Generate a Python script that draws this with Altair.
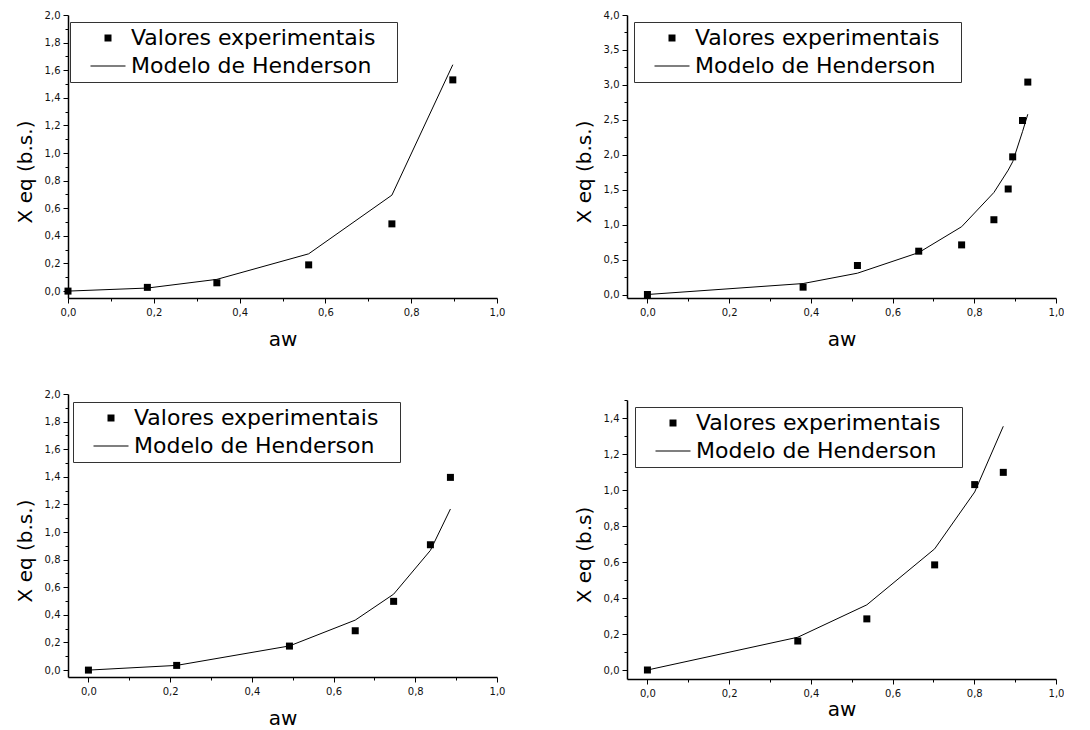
import altair as alt
import pandas as pd

FONT = "DejaVu Sans"
S_EXP = "Valores experimentais"
S_MOD = "Modelo de Henderson"

# ---- Panel 1 (top-left)
aw_1 = [0.0, 0.185, 0.347, 0.561, 0.755, 0.897]
xexp_1 = [0.0, 0.027, 0.06, 0.19, 0.487, 1.53]
xmod_1 = [0.0, 0.022, 0.085, 0.27, 0.695, 1.64]

# ---- Panel 2 (top-right)
aw_2 = [0.0, 0.381, 0.514, 0.664, 0.769, 0.848, 0.883, 0.894, 0.918, 0.931]
xexp_2 = [0.0, 0.105, 0.415, 0.62, 0.71, 1.07, 1.51, 1.97, 2.49, 3.04]
xmod_2 = [0.0, 0.157, 0.305, 0.60, 0.97, 1.46, 1.78, 1.90, 2.33, 2.58]

# ---- Panel 3 (bottom-left)
aw_3 = [0.0, 0.216, 0.492, 0.653, 0.747, 0.837, 0.886]
xexp_3 = [0.0, 0.034, 0.174, 0.285, 0.498, 0.908, 1.396]
xmod_3 = [0.0, 0.034, 0.175, 0.362, 0.55, 0.867, 1.167]

# ---- Panel 4 (bottom-right)
aw_4 = [0.0, 0.368, 0.537, 0.703, 0.801, 0.871]
xexp_4 = [0.0, 0.161, 0.284, 0.584, 1.03, 1.098]
xmod_4 = [0.0, 0.182, 0.362, 0.673, 0.989, 1.354]

x_ticks = [round(i * 0.1, 2) for i in range(0, 11)]
y_ticks_2 = [round(i * 0.1, 2) for i in range(0, 21)]
y_ticks_4 = [round(i * 0.25, 2) for i in range(0, 17)]
y_ticks_15 = [round(i * 0.1, 2) for i in range(0, 16)]

SQUARE = "M-1,-1H1V1H-1Z"
LINE = "M-5,-0.15H5V0.15H-5Z"
PAD = "\u2800"


def fmt_expr(step):
    test = f"abs(datum.value/{step} - round(datum.value/{step})) < 0.001"
    label = f"{test} ? replace(format(datum.value, '.1f'), '.', ',') : ''"
    return test, label


def make_axis(title, values, step, orient, title_pad, title_y=None):
    test, label = fmt_expr(step)
    extra = {}
    if title_y is not None:
        extra["titleY"] = title_y
    return alt.Axis(
        title=title,
        values=values,
        labelExpr=label,
        tickSize={"condition": {"test": test, "value": 5}, "value": 3},
        grid=False,
        domainColor="black",
        domainWidth=1.5,
        tickColor="black",
        tickWidth=1,
        labelColor="#111111",
        titleColor="black",
        labelFont=FONT,
        titleFont=FONT,
        labelFontSize=10,
        titleFontSize=20,
        titleFontWeight="normal",
        labelFlush=False,
        labelOverlap=False,
        labelPadding=4 if orient == "x" else 3,
        titlePadding=title_pad,
        **extra,
    )


def panel(aw, xexp, xmod, xdom, ydom, yvals, ystep, ytitle, lx, ly, h, xtp=12):
    dexp = pd.DataFrame({"aw": aw, "xeq": xexp, "serie": S_EXP})
    dmod = pd.DataFrame({"aw": aw, "xeq": xmod, "serie": S_MOD})
    X = alt.X("aw:Q", scale=alt.Scale(domain=xdom, zero=False, nice=False),
              axis=make_axis("aw", x_ticks, 0.2, "x", xtp))
    Y = alt.Y("xeq:Q", scale=alt.Scale(domain=ydom, zero=False, nice=False),
              axis=make_axis(ytitle, yvals, ystep, "y", 9, title_y=h / 2 + 15))
    line = alt.Chart(dmod).mark_line(color="black", strokeWidth=1).encode(x=X, y=Y)
    pts = alt.Chart(dexp).mark_point(
        filled=True, size=49, opacity=1, color="black"
    ).encode(
        x=X, y=Y,
        shape=alt.Shape(
            "serie:N",
            scale=alt.Scale(domain=[S_EXP, S_MOD], range=[SQUARE, LINE]),
            legend=alt.Legend(
                title=None,
                orient="none",
                legendX=lx,
                legendY=ly,
                labelFont=FONT,
                labelFontSize=22,
                labelColor="black",
                labelLimit=500,
                labelExpr=f"datum.label + '{PAD}'",
                symbolSize=49,
                symbolFillColor="black",
                symbolOpacity=1,
                strokeColor="#333333",
                fillColor="white",
                padding=5,
                symbolOffset=22,
                labelOffset=12,
                rowPadding=6,
            ),
        ),
    )
    ch = alt.layer(line, pts).properties(width=429, height=h)
    return ch.resolve_scale(shape="independent").resolve_legend(shape="independent")


p1 = panel(aw_1, xexp_1, xmod_1, [0, 1.0], [-0.05, 2.0], y_ticks_2, 0.2, "X eq (b.s.)", 2, 7, 283)
p2 = panel(aw_2, xexp_2, xmod_2, [-0.05, 1.0], [-0.05, 4.0], y_ticks_4, 0.5, "X eq (b.s.)", 7, 7, 283)
p3 = panel(aw_3, xexp_3, xmod_3, [-0.05, 1.0], [-0.05, 2.0], y_ticks_2, 0.2, "X eq (b.s.)", 5, 8, 283)
p4 = panel(aw_4, xexp_4, xmod_4, [-0.05, 1.0], [-0.05, 1.5], y_ticks_15, 0.2, "X eq (b.s)", 8, 7, 279, xtp=1)

# tiny invisible spacer pushes the bottom-right panel a few pixels lower, as in the reference
spacer = alt.Chart(pd.DataFrame({"v": [0]})).mark_point(opacity=0, filled=True, size=1).encode(
    x=alt.value(0), y=alt.value(0)
).properties(width=1, height=1)
p4_col = alt.vconcat(spacer, p4, spacing=0).resolve_scale(shape="independent").resolve_legend(shape="independent")

top = alt.hconcat(p1, p2, spacing=69).resolve_scale(shape="independent").resolve_legend(shape="independent")
bottom = alt.hconcat(p3, p4_col, spacing=69).resolve_scale(shape="independent").resolve_legend(shape="independent")
chart = alt.vconcat(top, bottom, spacing=40).resolve_scale(
    shape="independent"
).resolve_legend(shape="independent").properties(
    padding={"left": 7, "top": 2, "right": 0, "bottom": 0},
    background="white",
).configure_view(stroke=None)

chart.save("out.html", embed_options={"renderer": "svg", "actions": False})
